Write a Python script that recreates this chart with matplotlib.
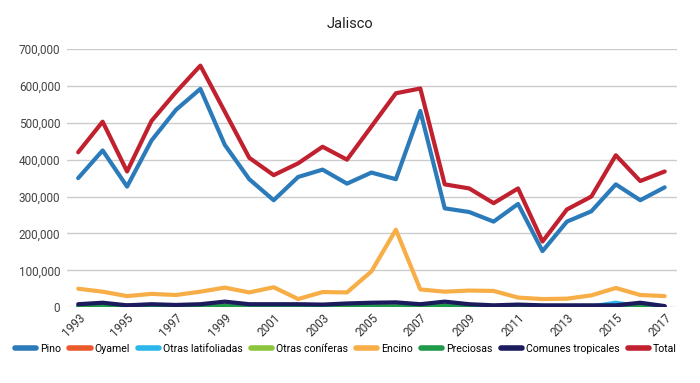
import numpy as np
import matplotlib.pyplot as plt
from matplotlib.ticker import FuncFormatter

# Jalisco, forest production by species group
years = list(range(1993, 2018))

pino = [350000, 425000, 327000, 452000, 535000, 592000, 440000, 347000, 290000, 353000,
        373000, 335000, 365000, 347000, 532000, 268000, 258000, 232000, 280000, 152000,
        232000, 260000, 333000, 290000, 325000]
oyamel = [2000, 3000, 5000, 4000, 4000, 5000, 3000, 2000, 2000, 2000,
          2000, 2000, 2000, 2000, 2000, 2000, 2000, 2000, 3000, 2000,
          2000, 2000, 2000, 2000, 1000]
otras_latifoliadas = [1000, 1000, 1000, 1000, 1000, 1000, 3000, 1000, 1000, 1000,
                      1000, 1000, 1000, 1000, 1000, 1000, 1000, 1000, 1000, 1000,
                      1000, 2000, 12000, 2000, 1000]
otras_coniferas = [1000, 2000, 1000, 1000, 1000, 2000, 6000, 2000, 1000, 1000,
                   1000, 1000, 2000, 2000, 2000, 6000, 2000, 1000, 1000, 1000,
                   1000, 1000, 1000, 4000, 1000]
encino = [50000, 42000, 30000, 36000, 33000, 42000, 53000, 40000, 54000, 22000,
          41000, 40000, 97000, 210000, 48000, 42000, 45000, 44000, 26000, 22000,
          23000, 32000, 52000, 33000, 30000]
preciosas = [1000, 2000, 1000, 1000, 1000, 1000, 3000, 1000, 1000, 1000,
             1000, 1000, 2000, 2000, 1000, 3000, 1000, 1000, 1000, 1000,
             1000, 1000, 1000, 3000, 1000]
comunes_tropicales = [8000, 12000, 5000, 8000, 6000, 8000, 15000, 8000, 8000, 8000,
                      7000, 10000, 12000, 13000, 8000, 15000, 8000, 5000, 7000, 5000,
                      5000, 5000, 5000, 12000, 3000]
total = [420000, 503000, 368000, 505000, 583000, 655000, 530000, 405000, 358000, 390000,
         435000, 400000, 490000, 580000, 593000, 333000, 322000, 282000, 322000, 178000,
         265000, 300000, 412000, 342000, 368000]

series = [
    ("Pino", pino, "#2b7bba"),
    ("Oyamel", oyamel, "#ea5a2b"),
    ("Otras latifoliadas", otras_latifoliadas, "#2db6ea"),
    ("Otras coníferas", otras_coniferas, "#8dc53f"),
    ("Encino", encino, "#f7ae47"),
    ("Preciosas", preciosas, "#1f9a4a"),
    ("Comunes tropicales", comunes_tropicales, "#1b1b5e"),
    ("Total", total, "#c1202f"),
]

plt.rcParams['font.family'] = ['Roboto', 'DejaVu Sans']

fig = plt.figure(figsize=(7, 3.83), dpi=100)
ax = fig.add_axes([0.096, 0.198, 0.871, 0.674])

for name, vals, color in series:
    ax.plot(years, vals, color=color, lw=3, label=name, solid_capstyle='round')

ax.set_ylim(0, 700000)
ax.set_xlim(1992.55, 2017.5)
ax.set_yticks(np.arange(0, 700001, 100000))
ax.yaxis.set_major_formatter(FuncFormatter(lambda v, p: f"{int(v):,}"))
ax.set_xticks(years[::2])
ax.set_xticklabels([str(y) for y in years[::2]], rotation=45, ha='right',
                   rotation_mode='anchor', fontsize=8.5, color='#333333')
ax.tick_params(axis='y', labelsize=8.5, labelcolor='#444444', length=0, pad=5)
ax.tick_params(axis='x', length=0, pad=3)
ax.grid(axis='y', color='#cccccc', lw=1)
ax.set_axisbelow(True)
for s in ax.spines.values():
    s.set_visible(False)

fig.suptitle("Jalisco", y=0.955, fontsize=10.5, color='#222222')

leg = fig.legend(loc='center', bbox_to_anchor=(0.494, 0.089), ncol=8, frameon=False,
                 fontsize=7.6, handlelength=2.0, handletextpad=0.35, columnspacing=0.8,
                 borderaxespad=0, borderpad=0)
for h in leg.get_lines():
    h.set_linewidth(4)

fig.savefig("out.png", dpi=100)
